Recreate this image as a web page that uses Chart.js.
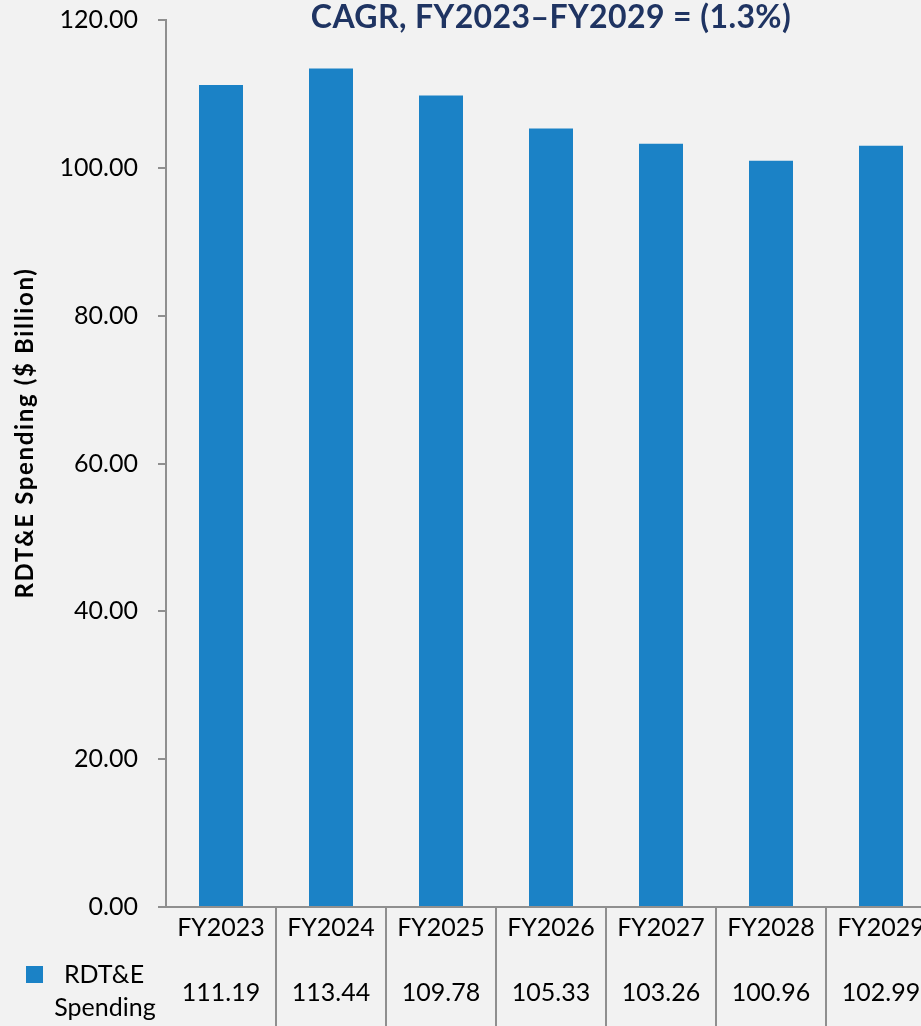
<!DOCTYPE html>
<html><head><meta charset="utf-8">
<script src="https://cdn.jsdelivr.net/npm/chart.js@4.4.0/dist/chart.umd.min.js"></script>
<style>
html,body{margin:0;padding:0;width:921px;height:1026px;overflow:hidden;background:#f2f2f2;}
#wrap{position:absolute;left:0;top:0;width:940px;height:1026px;}
canvas{display:block;}
</style></head><body>
<div id="wrap"><canvas id="c" width="940" height="1026"></canvas></div>
<script>
const categories = ["FY2023","FY2024","FY2025","FY2026","FY2027","FY2028","FY2029"];
const spending = [111.19,113.44,109.78,105.33,103.26,100.96,102.99];
const seriesLabel = ["RDT&E","Spending"];
const chartTitle = "CAGR, FY2023\u2013FY2029 = (1.3%)";
const yAxisTitle = "RDT&E Spending ($ Billion)";
const yMin = 0, yMax = 120, yStep = 20;

const BAR = "#1b82c6";
const LINE = "#8f8f8f";
const FONT = "Lato, 'Open Sans', sans-serif";

const overlay = {
  id: "overlay",
  afterDraw(chart) {
    const ctx = chart.ctx;
    const x = chart.scales.x, ca = chart.chartArea;
    ctx.save();
    // title
    ctx.fillStyle = "#1f3462";
    ctx.font = "bold 32px " + FONT;
    ctx.textAlign = "center"; ctx.textBaseline = "alphabetic";
    ctx.letterSpacing = "0.4px";
    ctx.fillText(chartTitle, 551, 28);
    // y axis title
    ctx.save();
    ctx.translate(33, 433);
    ctx.rotate(-Math.PI/2);
    ctx.fillStyle = "#000";
    ctx.font = "bold 24px " + FONT;
    ctx.letterSpacing = "1.65px";
    ctx.fillText(yAxisTitle, 0, 0);
    ctx.restore();
    ctx.letterSpacing = "0px";
    ctx.textBaseline = "middle";
    // table vertical lines
    ctx.strokeStyle = LINE; ctx.lineWidth = 2;
    for (let i = 1; i < categories.length; i++) {
      const bx = Math.round((x.getPixelForValue(i-1) + x.getPixelForValue(i)) / 2);
      ctx.beginPath(); ctx.moveTo(bx, ca.bottom); ctx.lineTo(bx, chart.height); ctx.stroke();
    }
    // values row
    ctx.fillStyle = "#000";
    ctx.font = "25px " + FONT;
    spending.forEach((v, i) => {
      ctx.fillText(v.toFixed(2), x.getPixelForValue(i), 993);
    });
    // legend key
    ctx.fillStyle = BAR;
    ctx.fillRect(26, 966, 17, 17);
    ctx.fillStyle = "#000";
    ctx.fillText(seriesLabel[0], 104, 975);
    ctx.fillText(seriesLabel[1], 105, 1008);
    ctx.restore();
  }
};

new Chart(document.getElementById("c"), {
  type: "bar",
  data: {
    labels: categories,
    datasets: [{ label: seriesLabel.join(" "), data: spending, backgroundColor: BAR,
      categoryPercentage: 1.0, barPercentage: 0.4 }]
  },
  options: {
    responsive: false, animation: false, devicePixelRatio: 1,
    layout: { padding: { left: 0, right: 4, top: 20, bottom: 0 } },
    plugins: { legend: { display: false }, title: { display: false }, tooltip: { enabled: false } },
    scales: {
      x: {
        offset: true,
        grid: { display: false, drawTicks: false },
        border: { display: true, color: LINE, width: 2 },
        ticks: { color: "#000", font: { family: FONT, size: 25 }, padding: 6, maxRotation: 0, autoSkip: false },
        afterFit(s) { s.height = 119; s.paddingLeft = 0; s.paddingRight = 0; }
      },
      y: {
        min: yMin, max: yMax,
        grid: { drawOnChartArea: false, drawTicks: true, tickLength: 8, color: LINE, lineWidth: 2 },
        border: { display: true, color: LINE, width: 2 },
        ticks: { stepSize: yStep, color: "#000", font: { family: FONT, size: 25 }, padding: 20,
          callback: v => Number(v).toFixed(2) },
        afterFit(s) { s.width = 166; s.paddingTop = 0; s.paddingBottom = 0; }
      }
    }
  },
  plugins: [overlay]
});
</script>
</body></html>
